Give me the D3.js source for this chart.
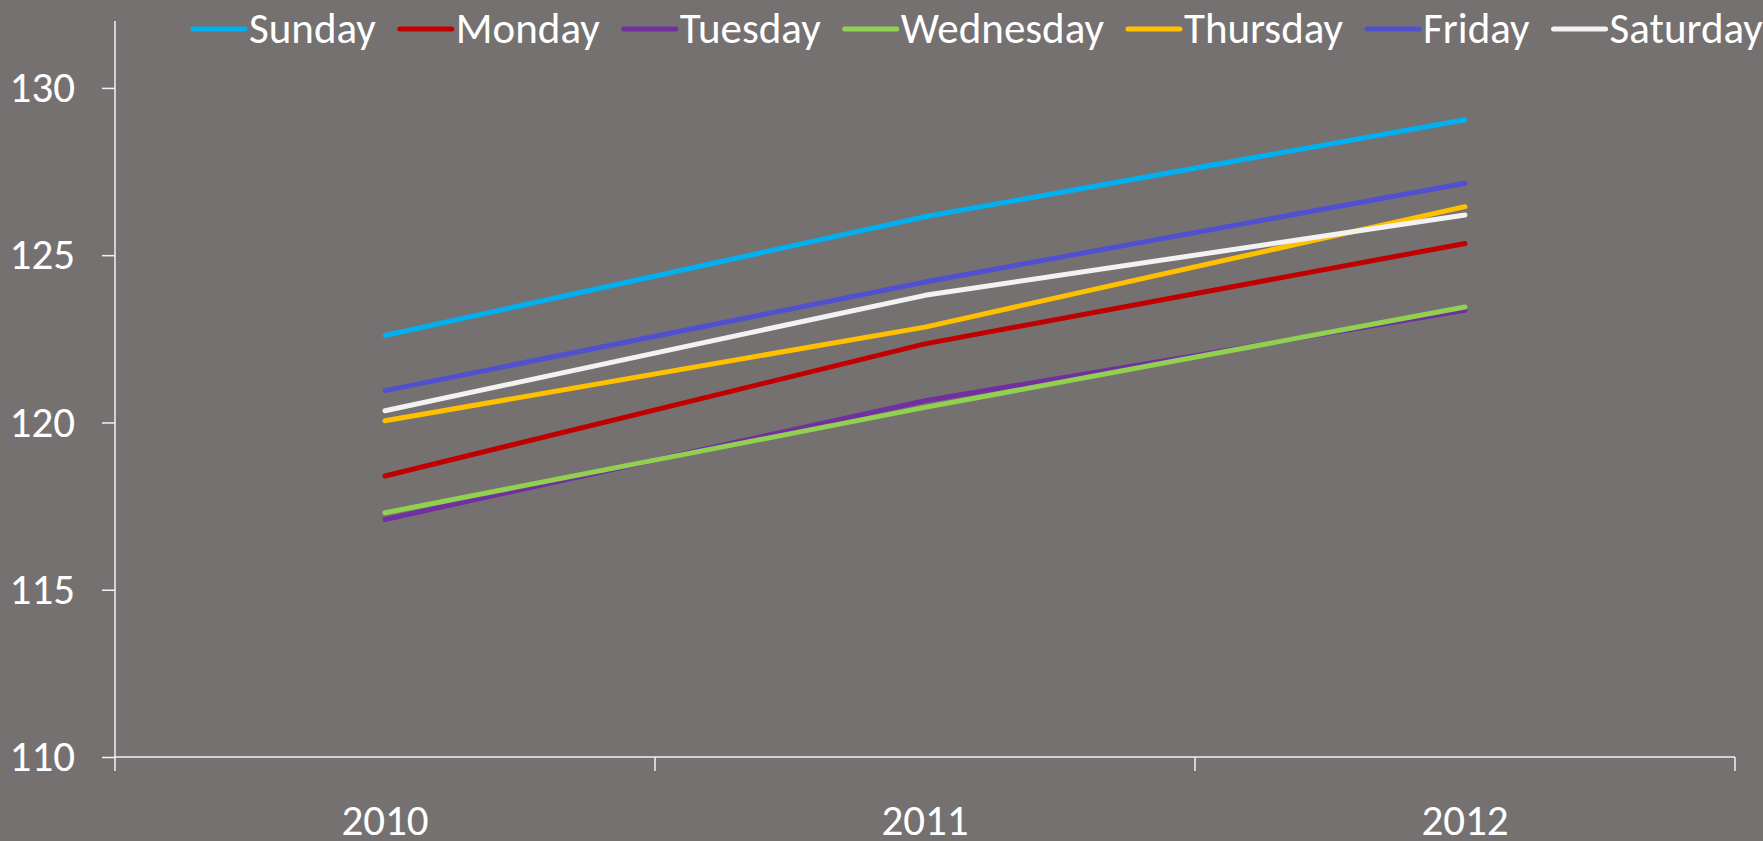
<!DOCTYPE html>
<html>
<head>
<meta charset="utf-8">
<script src="https://cdn.jsdelivr.net/npm/d3@7"></script>
<style>
  html, body { margin: 0; padding: 0; background: #767171; }
  svg { display: block; }
  text { font-family: Carlito, "Liberation Sans Narrow", "Open Sans", sans-serif; fill: #ffffff; }
</style>
</head>
<body>
<svg id="chart"></svg>
<script>
// categories and series
const years = ["2010", "2011", "2012"];
const days = ["Sunday", "Monday", "Tuesday", "Wednesday", "Thursday", "Friday", "Saturday"];
const sunday    = [122.6, 126.15, 129.05];
const monday    = [118.4, 122.35, 125.35];
const tuesday   = [117.1, 120.65, 123.35];
const wednesday = [117.3, 120.45, 123.45];
const thursday  = [120.05, 122.85, 126.45];
const friday    = [120.95, 124.2, 127.15];
const saturday  = [120.35, 123.8, 126.2];
const yTicks = [110, 115, 120, 125, 130];

const colors = ["#00B0F0", "#C00000", "#7030A0", "#92D050", "#FFC000", "#5050D0", "#F2F2F2"];
const seriesValues = [sunday, monday, tuesday, wednesday, thursday, friday, saturday];
const series = days.map((d, i) => ({ name: d, color: colors[i], values: seriesValues[i] }));

const W = 1763, H = 841;
const margin = { top: 21, right: 28, bottom: 84, left: 115 };

const svg = d3.select("#chart").attr("width", W).attr("height", H);
svg.append("rect").attr("width", W).attr("height", H).attr("fill", "#767171");

const x = d3.scaleBand().domain(years).range([margin.left, W - margin.right]);
const y = d3.scaleLinear().domain([110, 132]).range([H - margin.bottom, margin.top]);

const fontSize = 43;

// y axis
const yAxis = svg.append("g")
  .attr("transform", `translate(${margin.left},0)`)
  .call(d3.axisLeft(y).tickValues(yTicks).tickSize(13).tickPadding(27).tickFormat(d3.format("d")));
yAxis.select(".domain").attr("stroke", "#F2F2F2").attr("stroke-width", 1.5)
  .attr("d", `M-0,${margin.top}V${H - margin.bottom}`);
yAxis.selectAll(".tick line").attr("stroke", "#F2F2F2").attr("stroke-width", 1.5);
yAxis.selectAll(".tick text").attr("font-size", fontSize).attr("fill", "#fff")
  .attr("font-family", null);

// x axis with ticks between categories
const xAxis = svg.append("g")
  .attr("transform", `translate(0,${H - margin.bottom})`);
xAxis.append("line")
  .attr("x1", margin.left).attr("x2", W - margin.right)
  .attr("stroke", "#F2F2F2").attr("stroke-width", 1.5);
const edges = years.map(d => x(d)).concat([x(years[years.length - 1]) + x.bandwidth()]);
xAxis.selectAll("line.tk").data(edges).join("line").attr("class", "tk")
  .attr("x1", d => d).attr("x2", d => d).attr("y1", 0).attr("y2", 14)
  .attr("stroke", "#F2F2F2").attr("stroke-width", 1.5);
xAxis.selectAll("text").data(years).join("text")
  .attr("x", d => x(d) + x.bandwidth() / 2)
  .attr("y", 78)
  .attr("text-anchor", "middle")
  .attr("font-size", fontSize)
  .text(d => d);

// lines
const line = d3.line()
  .x((d, i) => x(years[i]) + x.bandwidth() / 2)
  .y(d => y(d));

svg.append("g").selectAll("path").data(series).join("path")
  .attr("d", d => line(d.values))
  .attr("fill", "none")
  .attr("stroke", d => d.color)
  .attr("stroke-width", 5)
  .attr("stroke-linecap", "round")
  .attr("stroke-linejoin", "round");

// legend across the top
const legend = svg.append("g");
let lx = 191;
const swatch = 56, legendY = 29;
series.forEach(s => {
  const g = legend.append("g");
  g.append("line")
    .attr("x1", lx + 2).attr("x2", lx + swatch - 2)
    .attr("y1", legendY).attr("y2", legendY)
    .attr("stroke", s.color).attr("stroke-width", 5).attr("stroke-linecap", "round");
  const t = g.append("text")
    .attr("x", lx + swatch + 2)
    .attr("y", legendY + 14)
    .attr("font-size", fontSize)
    .text(s.name);
  lx += swatch + 2 + t.node().getComputedTextLength() + 22;
});
</script>
</body>
</html>
